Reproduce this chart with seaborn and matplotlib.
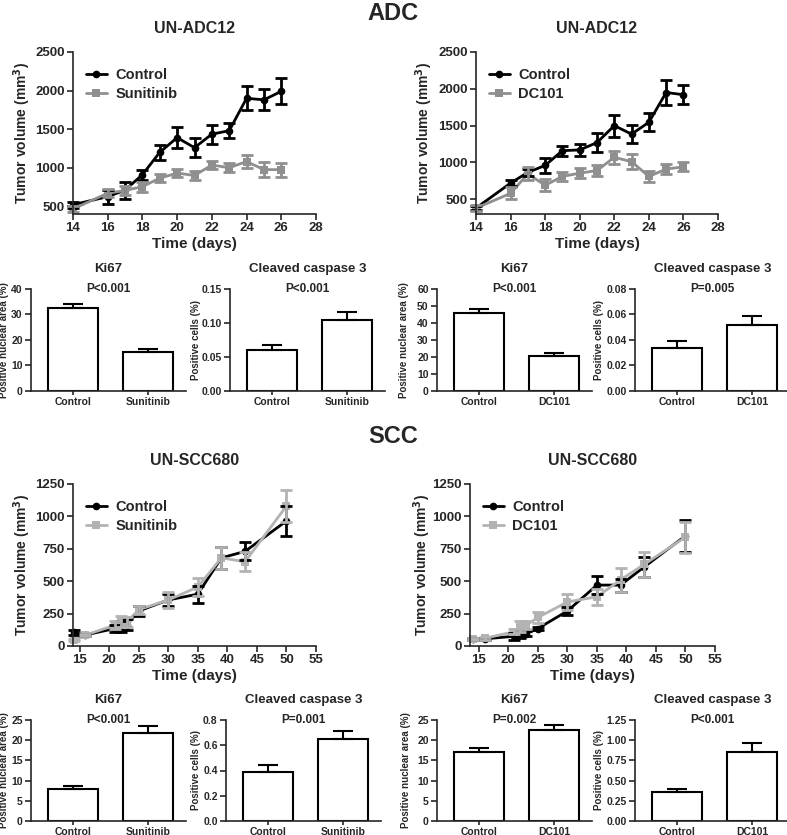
import numpy as np
import pandas as pd
import matplotlib
matplotlib.use("Agg")
import matplotlib.pyplot as plt
import seaborn as sns

# ---- tumour growth data (mean, sem) ----
days_adc = [14, 16, 17, 18, 19, 20, 21, 22, 23, 24, 25, 26]
ctrl_sun = [520, 625, 710, 910, 1200, 1390, 1260, 1435, 1480, 1900, 1880, 1990]
ctrl_sun_err = [40, 90, 110, 65, 100, 135, 120, 125, 100, 155, 135, 170]
sun = [465, 670, 705, 755, 865, 930, 900, 1035, 1000, 1080, 975, 975]
sun_err = [35, 55, 55, 65, 55, 50, 60, 50, 60, 90, 100, 90]

ctrl_dc = [380, 720, 865, 960, 1160, 1170, 1270, 1500, 1385, 1545, 1950, 1920]
ctrl_dc_err = [30, 40, 50, 100, 70, 80, 130, 150, 120, 120, 170, 130]
dc = [380, 580, 845, 690, 810, 855, 890, 1070, 1010, 810, 910, 940]
dc_err = [40, 80, 90, 80, 60, 70, 80, 90, 100, 70, 70, 60]

days_scc = [14, 16, 21, 22, 23, 25, 30, 35, 39, 43, 50]
ctrl_scc_sun = [105, 85, 135, 150, 165, 270, 355, 400, 680, 730, 965]
ctrl_scc_sun_err = [20, 10, 30, 40, 40, 40, 50, 65, 85, 70, 115]
sun_scc = [45, 85, 160, 190, 185, 280, 355, 455, 680, 650, 1080]
sun_scc_err = [10, 10, 30, 40, 40, 30, 65, 70, 85, 75, 120]

ctrl_scc_dc = [55, 55, 75, 90, 95, 135, 270, 470, 470, 610, 850]
ctrl_scc_dc_err = [10, 10, 25, 30, 20, 15, 30, 70, 50, 80, 125]
dc_scc = [55, 60, 110, 150, 160, 220, 340, 380, 510, 630, 840]
dc_scc_err = [10, 10, 20, 40, 30, 40, 60, 60, 90, 95, 120]

# ---- IHC bars ----
groups_sun = ["Control", "Sunitinib"]
groups_dc = ["Control", "DC101"]
ki67_adc_sun = [32.7, 15.4]
ki67_adc_sun_err = [1.3, 1.0]
cc3_adc_sun = [0.060, 0.105]
cc3_adc_sun_err = [0.008, 0.011]
ki67_adc_dc = [46.0, 20.3]
ki67_adc_dc_err = [2.2, 2.3]
cc3_adc_dc = [0.0335, 0.0515]
cc3_adc_dc_err = [0.0055, 0.007]
ki67_scc_sun = [7.9, 21.7]
ki67_scc_sun_err = [0.7, 1.7]
cc3_scc_sun = [0.39, 0.65]
cc3_scc_sun_err = [0.053, 0.066]
ki67_scc_dc = [17.0, 22.5]
ki67_scc_dc_err = [1.1, 1.2]
cc3_scc_dc = [0.36, 0.86]
cc3_scc_dc_err = [0.04, 0.10]

sns.set_style("ticks")
plt.rcParams['font.family'] = ['Liberation Sans', 'DejaVu Sans']
plt.rcParams['font.weight'] = 'bold'
plt.rcParams['axes.labelweight'] = 'bold'
plt.rcParams['axes.linewidth'] = 1.2
plt.rcParams['xtick.major.width'] = 1.2
plt.rcParams['ytick.major.width'] = 1.2
plt.rcParams['xtick.major.size'] = 4
plt.rcParams['ytick.major.size'] = 4

W, H = 787, 835
fig = plt.figure(figsize=(W / 100, H / 100), dpi=100)


def px_axes(x0, y0, x1, y1):
    # pixel box (top-left origin) -> figure axes
    return fig.add_axes([x0 / W, 1 - y1 / H, (x1 - x0) / W, (y1 - y0) / H])


def growth(ax, days, c, ce, t, te, tname, tcolor, xlim, xticks, ylim, yticks, title, ylab_x):
    df = pd.DataFrame({"day": days * 2, "vol": c + t,
                       "grp": ["Control"] * len(days) + [tname] * len(days)})
    sns.lineplot(data=df, x="day", y="vol", hue="grp", style="grp",
                 palette=["black", tcolor], markers=["o", "s"], dashes=False,
                 markersize=5.5, markeredgewidth=0, linewidth=2, ax=ax, clip_on=False)
    ax.errorbar(days, c, yerr=ce, fmt="none", ecolor="black", elinewidth=2,
                capsize=4, capthick=2, clip_on=False)
    ax.errorbar(days, t, yerr=te, fmt="none", ecolor=tcolor, elinewidth=2,
                capsize=4, capthick=2, clip_on=False)
    ax.set_xlim(*xlim)
    ax.set_xticks(xticks)
    ax.set_ylim(*ylim)
    ax.set_yticks(yticks)
    ax.tick_params(labelsize=9.5, pad=2)
    ax.set_xlabel("Time (days)", fontsize=11, labelpad=2)
    ax.set_ylabel("Tumor volume (mm$^\\mathbf{3}$)", fontsize=10)
    ax.yaxis.set_label_coords(ylab_x, 0.5)
    ax.set_title(title, fontsize=11.5, fontweight="bold", pad=14)
    sns.despine(ax=ax)
    ax.legend(loc="upper left", bbox_to_anchor=(0.0, 0.98), frameon=False,
              fontsize=10.5, handlelength=1.4, handletextpad=0.6, labelspacing=0.3)


def bars(ax, groups, vals, errs, title, pval, ylab, yticks, fmt, ylab_x):
    df = pd.DataFrame({"grp": groups, "val": vals})
    sns.barplot(data=df, x="grp", y="val", color="white", edgecolor="black",
                linewidth=1.5, width=0.66, ax=ax)
    ax.errorbar(range(len(vals)), vals, yerr=[[0] * len(vals), errs], fmt="none",
                ecolor="black", elinewidth=1.5, capsize=7, capthick=1.5)
    ax.set_xlim(-0.55, 1.5)
    ax.set_ylim(yticks[0], yticks[-1])
    ax.set_yticks(yticks)
    ax.set_yticklabels([fmt.format(v) for v in yticks])
    ax.tick_params(axis="y", labelsize=7.5, pad=2)
    ax.tick_params(axis="x", labelsize=7.5, pad=1, length=3)
    ax.set_xlabel("")
    ax.set_ylabel(ylab, fontsize=7)
    ax.yaxis.set_label_coords(ylab_x, 0.5)
    ax.set_title(title, fontsize=9.5, fontweight="bold", pad=12)
    ax.text(0.5, 1.0, pval, transform=ax.transAxes, ha="center", va="center",
            fontsize=8.5, fontweight="bold")
    sns.despine(ax=ax)


gray_adc = "#8f8f8f"
gray_scc = "#b3b3b3"

# ADC growth
ax = px_axes(73, 52, 316, 214)
growth(ax, days_adc, ctrl_sun, ctrl_sun_err, sun, sun_err, "Sunitinib", gray_adc,
       (14, 28), range(14, 29, 2), (400, 2500), range(500, 2501, 500), "UN-ADC12", -0.165)
ax = px_axes(476, 52, 718, 214)
growth(ax, days_adc, ctrl_dc, ctrl_dc_err, dc, dc_err, "DC101", gray_adc,
       (14, 28), range(14, 29, 2), (300, 2500), range(500, 2501, 500), "UN-ADC12", -0.17)

# SCC growth
ax = px_axes(73, 484, 316, 646)
growth(ax, days_scc, ctrl_scc_sun, ctrl_scc_sun_err, sun_scc, sun_scc_err, "Sunitinib", gray_scc,
       (13.9, 55), range(15, 56, 5), (0, 1250), range(0, 1251, 250), "UN-SCC680", -0.165)
ax = px_axes(470, 484, 715, 646)
growth(ax, days_scc, ctrl_scc_dc, ctrl_scc_dc_err, dc_scc, dc_scc_err, "DC101", gray_scc,
       (13.5, 55), range(15, 56, 5), (0, 1250), range(0, 1251, 250), "UN-SCC680", -0.15)

bw = 155
nuc = "Positive nuclear area (%)"
pos = "Positive cells (%)"
# ADC bars
bars(px_axes(31, 289, 31 + bw, 391), groups_sun, ki67_adc_sun, ki67_adc_sun_err, "Ki67", "P<0.001",
     nuc, [0, 10, 20, 30, 40], "{:.0f}", -0.14)
bars(px_axes(230, 289, 230 + bw, 391), groups_sun, cc3_adc_sun, cc3_adc_sun_err, "Cleaved caspase 3",
     "P<0.001", pos, [0, 0.05, 0.10, 0.15], "{:.2f}", -0.185)
bars(px_axes(437, 289, 437 + bw, 391), groups_dc, ki67_adc_dc, ki67_adc_dc_err, "Ki67", "P<0.001",
     nuc, [0, 10, 20, 30, 40, 50, 60], "{:.0f}", -0.18)
bars(px_axes(635, 289, 635 + bw, 391), groups_dc, cc3_adc_dc, cc3_adc_dc_err, "Cleaved caspase 3",
     "P=0.005", pos, [0, 0.02, 0.04, 0.06, 0.08], "{:.2f}", -0.2)

# SCC bars
bars(px_axes(31, 720, 31 + bw, 821), groups_sun, ki67_scc_sun, ki67_scc_sun_err, "Ki67", "P<0.001",
     nuc, [0, 5, 10, 15, 20, 25], "{:.0f}", -0.14)
bars(px_axes(226, 720, 226 + bw, 821), groups_sun, cc3_scc_sun, cc3_scc_sun_err, "Cleaved caspase 3",
     "P=0.001", pos, [0, 0.2, 0.4, 0.6, 0.8], "{:.1f}", -0.16)
bars(px_axes(437, 720, 437 + bw, 821), groups_dc, ki67_scc_dc, ki67_scc_dc_err, "Ki67", "P=0.002",
     nuc, [0, 5, 10, 15, 20, 25], "{:.0f}", -0.17)
bars(px_axes(635, 720, 635 + bw, 821), groups_dc, cc3_scc_dc, cc3_scc_dc_err, "Cleaved caspase 3",
     "P<0.001", pos, [0, 0.25, 0.5, 0.75, 1.0, 1.25], "{:.2f}", -0.2)

fig.text(393 / W, 1 - 14 / H, "ADC", ha="center", va="center", fontsize=17, fontweight="bold")
fig.text(393 / W, 1 - 437 / H, "SCC", ha="center", va="center", fontsize=17, fontweight="bold")

fig.savefig("out.png", dpi=100)
